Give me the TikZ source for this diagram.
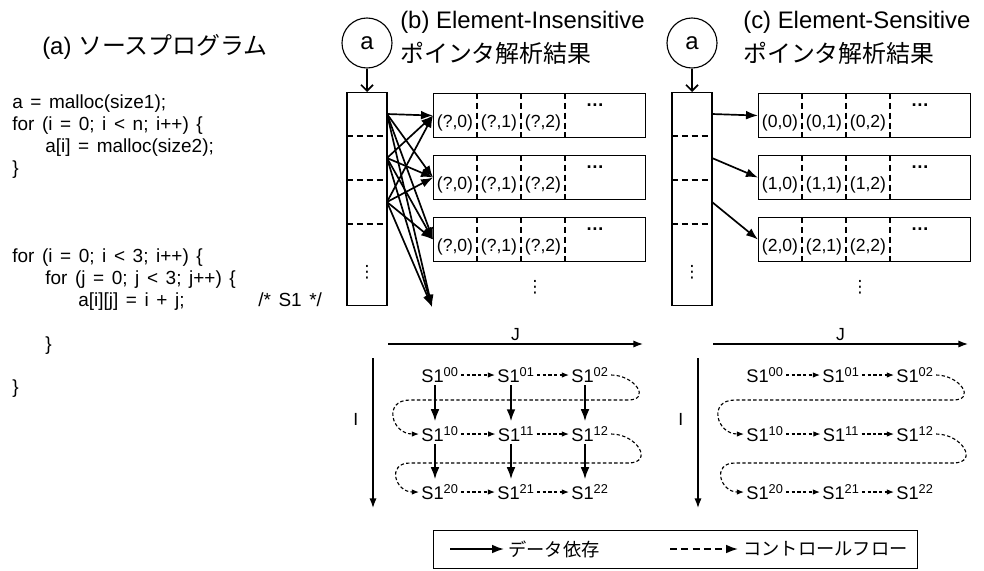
\documentclass[tikz,border=0pt]{standalone}
\usepackage{fontspec}
\setmainfont{Liberation Sans}
\newfontfamily\jp{Noto Sans CJK JP}
\newfontfamily\sym{DejaVu Sans}
\usepackage{tikz}
\usetikzlibrary{arrows.meta, positioning, calc}

\newcommand{\codefont}{\fontsize{13.5}{16}\selectfont\spaceskip=0.4em\relax}

\begin{document}
\begin{tikzpicture}[
    every node/.style={inner sep=0pt},
    srcline/.style={anchor=base west, font=\codefont},
    heading/.style={anchor=west, font=\fontsize{17}{20}\selectfont},
    lab/.style={font=\fontsize{12.5}{14}\selectfont},
    vdot/.style={font=\fontsize{12}{14}\selectfont\sym},
    stmt/.style={inner sep=1.5pt, font=\fontsize{13}{15}\selectfont},
    outline/.style={draw, line width=0.8pt},
    divider/.style={line width=1.5pt, dash pattern=on 4.6pt off 2.4pt},
    dep/.style={-{Latex[length=3mm,width=2.2mm]}, line width=1.2pt},
    ctrl/.style={-{Latex[length=1.8mm,width=1.4mm]}, line width=0.8pt, dash pattern=on 2.4pt off 1.6pt},
    axis/.style={-{Latex[length=2.4mm,width=1.8mm]}, line width=1pt}
  ]
  \useasboundingbox (0,0) rectangle (24.6,-14.25);

  % (a) source program
  \node[heading] (ta) at (1.05,-1.175) {(a) {\jp ソースプログラム}};
  \node[srcline] (l1) at (0.3,-2.7) {a = malloc(size1);};
  \node[srcline] (l2) at (0.3,-3.25) {for (i = 0; i < n; i++) \{};
  \node[srcline] (l3) at (1.125,-3.8) {a[i] = malloc(size2);};
  \node[srcline] (l4) at (0.3,-4.35) {\}};
  \node[srcline] (l5) at (0.3,-6.55) {for (i = 0; i < 3; i++) \{};
  \node[srcline] (l6) at (1.125,-7.1) {for (j = 0; j < 3; j++) \{};
  \node[srcline] (l7) at (1.95,-7.65) {a[i][j] = i + j;};
  \node[srcline] (l7c) at (6.45,-7.65) {/* S1 */};
  \node[srcline] (l8) at (1.125,-8.75) {\}};
  \node[srcline] (l9) at (0.3,-9.825) {\}};

  % (b) and (c): same layout, shifted
  \foreach \p/\dx/\ra/\rb/\rc in {b/0/?/?/?, c/8.125/0/1/2} {
    \begin{scope}[xshift=\dx cm]
      % pointer a and the first-level array
      \node[draw, circle, line width=0.8pt, minimum size=1.25cm, font=\fontsize{17}{20}\selectfont] (\p a) at (9.175,-1.075) {a};
      \node[outline, minimum width=1cm, minimum height=5.325cm, anchor=north] (\p col) at (9.175,-2.3) {};
      \draw[-{Straight Barb[length=1.5mm,width=3mm]}, line width=1.2pt] (\p a) -- (\p col);
      \foreach \y in {-3.4,-4.5,-5.6}
        \draw[divider] (8.675,\y) -- (9.675,\y);
      \node[vdot] (\p cdots) at (9.175,-6.8) {⋮};
      \foreach \k/\y in {1/-2.85, 2/-3.95, 3/-5.05}
        \coordinate (\p src\k) at (9.675,\y);
      % second-level arrays
      \foreach \row/\y/\ri in {1/-2.325/\ra, 2/-3.875/\rb, 3/-5.425/\rc} {
        \node[outline, minimum width=5.3cm, minimum height=1.1cm, anchor=north west] (\p r\row) at (10.825,\y) {};
        \foreach \cx in {1.1,2.2,3.3}
          \draw[divider] ([xshift=\cx cm]\p r\row.north west) -- ([xshift=\cx cm]\p r\row.south west);
        \foreach \k in {0,1,2}
          \node[lab] at ([xshift=0.55cm+\k*1.1cm, yshift=-0.75cm]\p r\row.north west) {(\ri,\k)};
        \node[lab, font=\fontsize{13}{15}\selectfont\bfseries] at ([xshift=4.05cm, yshift=-0.3cm]\p r\row.north west) {\dots};
      }
      \node[vdot] (\p rdots) at (13.375,-7.175) {⋮};
      % iteration space
      \coordinate (\p j0) at (9.7,-8.6);
      \coordinate (\p j1) at (16.075,-8.6);
      \draw[axis] (\p j0) -- node[above=2pt, lab]{J} (\p j1);
      \coordinate (\p i0) at (9.325,-8.95);
      \coordinate (\p i1) at (9.325,-12.7);
      \draw[axis] (\p i0) -- node[pos=0.41, left=0.35cm, lab]{I} (\p i1);
      \foreach \ii/\y in {0/-9.375, 1/-10.85, 2/-12.3} {
        \foreach \jj/\x in {0/11.0, 1/12.9, 2/14.75}
          \node[stmt] (\p s\ii\jj) at (\x,\y) {S1\textsuperscript{\ii\jj}};
        \draw[ctrl] (\p s\ii0) -- (\p s\ii1);
        \draw[ctrl] (\p s\ii1) -- (\p s\ii2);
      }
      \draw[ctrl] (\p s02.east) to[out=0,in=0,looseness=2] (15.7,-10.0) -- (10.25,-10.0) to[out=180,in=180,looseness=2] (\p s10.west);
      \draw[ctrl] (\p s12.east) to[out=0,in=0,looseness=2] (15.7,-11.575) -- (10.25,-11.575) to[out=180,in=180,looseness=2] (\p s20.west);
    \end{scope}
  }

  % titles
  \node[heading] (tb1) at (10.0,-0.55) {(b) Element-Insensitive};
  \node[heading] (tb2) at (10.0,-1.325) {\jp ポインタ解析結果};
  \node[heading] (tc1) at (18.575,-0.55) {(c) Element-Sensitive};
  \node[heading] (tc2) at (18.575,-1.325) {\jp ポインタ解析結果};

  % (b): every element may point to every row
  \coordinate (bend) at (10.8,-7.675);
  \foreach \k in {1,2,3}
    \foreach \t in {br1.west, br2.west, br3.west, bend}
      \draw[dep] (bsrc\k) -- (\t);
  \foreach \jj in {0,1,2} {
    \draw[dep, shorten >=2pt] ([xshift=-0.125cm]bs0\jj.south) -- ([xshift=-0.125cm]bs1\jj.north);
    \draw[dep, shorten >=2pt] ([xshift=-0.125cm]bs1\jj.south) -- ([xshift=-0.125cm]bs2\jj.north);
  }
  % (c): one row per element
  \foreach \k in {1,2,3}
    \draw[dep] (csrc\k) -- (cr\k.west);

  % legend
  \node[outline, minimum width=12.1cm, minimum height=0.95cm, anchor=north west] (leg) at (10.825,-13.25) {};
  \coordinate (ld0) at (11.25,-13.725);
  \coordinate (ld1) at (12.6,-13.725);
  \draw[dep] (ld0) -- (ld1);
  \node[anchor=west, font=\fontsize{13}{15}\selectfont\jp] (ldep) at (12.7,-13.725) {データ依存};
  \coordinate (lc0) at (16.75,-13.725);
  \coordinate (lc1) at (18.45,-13.725);
  \draw[dep, dash pattern=on 5pt off 3pt] (lc0) -- (lc1);
  \node[anchor=west, font=\fontsize{13}{15}\selectfont\jp] (lctl) at (18.575,-13.725) {コントロールフロー};
\end{tikzpicture}
\end{document}
